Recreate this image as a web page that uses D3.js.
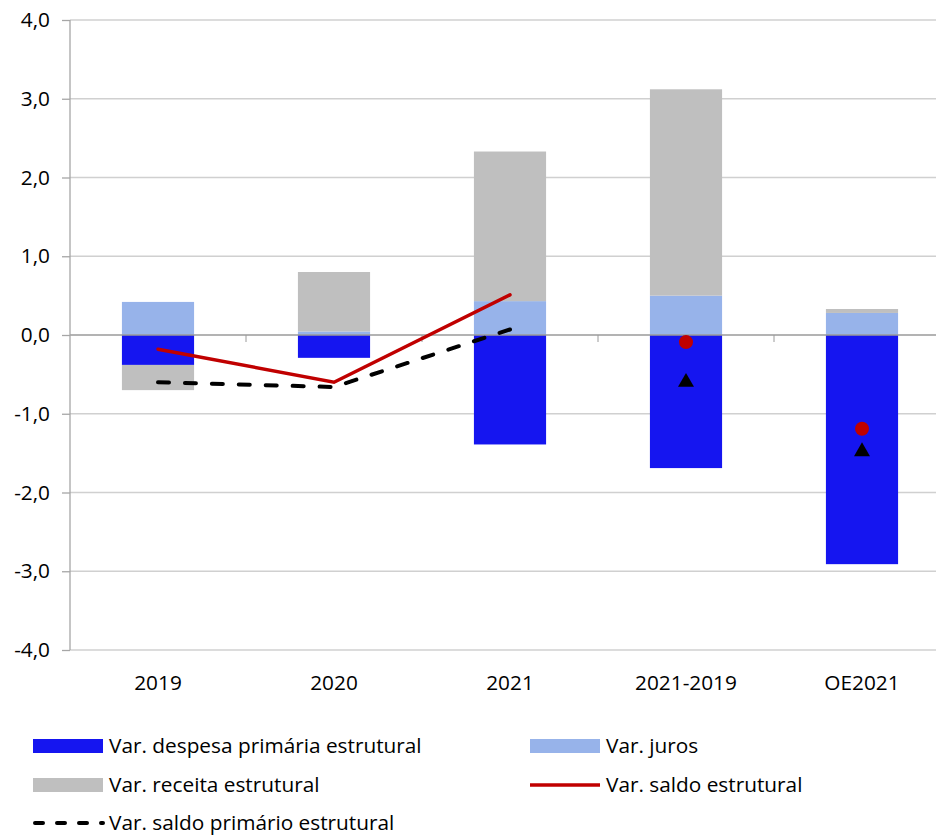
<!DOCTYPE html>
<html>
<head>
<meta charset="utf-8">
<script src="https://cdn.jsdelivr.net/npm/d3@7"></script>
<style>
  body { margin: 0; background: #fff; }
  svg text { font-family: "Open Sans", "Noto Sans", sans-serif; fill: #000; }
</style>
</head>
<body>
<svg id="chart" width="936" height="836"></svg>
<script>
// categories and series
const categories = ["2019", "2020", "2021", "2021-2019", "OE2021"];
const despesa = [-0.38, -0.29, -1.39, -1.69, -2.91];
const juros = [0.42, 0.045, 0.43, 0.50, 0.28];
const receita = [-0.32, 0.755, 1.90, 2.62, 0.05];
const saldo = [-0.18, -0.60, 0.51, -0.09, -1.19];
const saldoPrimario = [-0.60, -0.66, 0.07, -0.60, -1.48];
const yTicks = [-4, -3, -2, -1, 0, 1, 2, 3, 4];
const nLine = 3; // first three are drawn as lines, rest as markers

const W = 936, H = 836;
const plotL = 70, plotR = 950, plotT = 20, plotB = 650;
const fontSize = "20.8px";

const svg = d3.select("#chart");

const x = d3.scaleBand().domain(categories).range([plotL, plotR]).padding(0);
const y = d3.scaleLinear().domain([-4, 4]).range([plotB, plotT]);
const barW = x.bandwidth() * 0.41;

// gridlines
svg.append("g")
  .selectAll("line")
  .data(yTicks.filter(d => d !== 0))
  .enter()
  .append("line")
  .attr("x1", plotL).attr("x2", W)
  .attr("y1", d => y(d)).attr("y2", d => y(d))
  .attr("stroke", "#d0d0d0")
  .attr("stroke-width", 1.3);

// stacked bars
const keys = ["despesa", "juros", "receita"];
const colors = { despesa: "#1515f0", juros: "#97b3ea", receita: "#bfbfbf" };
const rows = categories.map((c, i) => ({ cat: c, despesa: despesa[i], juros: juros[i], receita: receita[i] }));
const stacked = d3.stack().keys(keys).offset(d3.stackOffsetDiverging)(rows);

svg.append("g")
  .selectAll("g")
  .data(stacked)
  .enter()
  .append("g")
  .attr("fill", d => colors[d.key])
  .selectAll("rect")
  .data(d => d)
  .enter()
  .append("rect")
  .attr("x", d => x(d.data.cat) + (x.bandwidth() - barW) / 2)
  .attr("y", d => y(Math.max(d[0], d[1])))
  .attr("width", barW)
  .attr("height", d => Math.abs(y(d[0]) - y(d[1])));

// zero line + category separator ticks
svg.append("line")
  .attr("x1", plotL).attr("x2", W)
  .attr("y1", y(0)).attr("y2", y(0))
  .attr("stroke", "#9a9a9a").attr("stroke-width", 1.5);

svg.append("g")
  .selectAll("line")
  .data(categories.slice(1))
  .enter()
  .append("line")
  .attr("x1", d => x(d)).attr("x2", d => x(d))
  .attr("y1", y(0)).attr("y2", y(0) + 7)
  .attr("stroke", "#9a9a9a").attr("stroke-width", 1);

// y axis
const yAxis = svg.append("g")
  .attr("transform", "translate(" + plotL + ",0)")
  .call(d3.axisLeft(y)
    .tickValues(yTicks)
    .tickSize(8)
    .tickPadding(12)
    .tickFormat(d => d3.format(".1f")(d).replace(".", ",").replace("\u2212", "-")));
yAxis.select(".domain").attr("stroke", "#a6a6a6").attr("stroke-width", 1.3).attr("d", "M0," + plotT + "V" + plotB);
yAxis.selectAll(".tick line").attr("stroke", "#a6a6a6").attr("stroke-width", 1.3);
yAxis.selectAll(".tick text").style("font-size", fontSize).attr("fill", "#000");

// category labels
svg.append("g")
  .selectAll("text")
  .data(categories)
  .enter()
  .append("text")
  .attr("x", d => x(d) + x.bandwidth() / 2)
  .attr("y", 690)
  .attr("text-anchor", "middle")
  .style("font-size", fontSize)
  .text(d => d);

const cx = i => x(categories[i]) + x.bandwidth() / 2;

// lines
const line = d3.line().x(d => cx(d.i)).y(d => y(d.v));
const saldoPts = saldo.map((v, i) => ({ v, i }));
const primPts = saldoPrimario.map((v, i) => ({ v, i }));

const dashed = svg.append("path")
  .datum(primPts.slice(0, nLine))
  .attr("d", line)
  .attr("fill", "none")
  .attr("stroke", "#000")
  .attr("stroke-width", 4)
  .attr("stroke-linecap", "round");
// fit the dash period so the line starts and ends on a dash
const dashLen = 11;
const len = dashed.node().getTotalLength();
const nPer = Math.round((len - dashLen) / 28);
const per = (len - dashLen) / nPer;
dashed.attr("stroke-dasharray", dashLen + "," + (per - dashLen));

svg.append("path")
  .datum(saldoPts.slice(0, nLine))
  .attr("d", line)
  .attr("fill", "none")
  .attr("stroke", "#c00000")
  .attr("stroke-width", 3.5)
  .attr("stroke-linecap", "round");

// markers for the last categories
svg.append("g")
  .selectAll("circle")
  .data(saldoPts.slice(nLine))
  .enter()
  .append("circle")
  .attr("cx", d => cx(d.i))
  .attr("cy", d => y(d.v))
  .attr("r", 7)
  .attr("fill", "#c00000");

const tri = d3.symbol().type(d3.symbolTriangle).size(110);
svg.append("g")
  .selectAll("path")
  .data(primPts.slice(nLine))
  .enter()
  .append("path")
  .attr("d", tri)
  .attr("transform", d => "translate(" + cx(d.i) + "," + y(d.v) + ")")
  .attr("fill", "#000");

// legend
const legend = [
  { label: "Var. despesa primária estrutural", type: "rect", color: colors.despesa, lx: 33, ly: 746 },
  { label: "Var. juros", type: "rect", color: colors.juros, lx: 530, ly: 746 },
  { label: "Var. receita estrutural", type: "rect", color: colors.receita, lx: 33, ly: 785 },
  { label: "Var. saldo estrutural", type: "line", color: "#c00000", lx: 530, ly: 785 },
  { label: "Var. saldo primário estrutural", type: "dash", color: "#000", lx: 33, ly: 823 }
];

const lg = svg.append("g")
  .selectAll("g")
  .data(legend)
  .enter()
  .append("g")
  .attr("transform", d => "translate(" + d.lx + "," + d.ly + ")");

lg.filter(d => d.type === "rect")
  .append("rect")
  .attr("x", 0).attr("y", -7)
  .attr("width", 70).attr("height", 14)
  .attr("fill", d => d.color);

lg.filter(d => d.type === "line")
  .append("line")
  .attr("x1", 0).attr("x2", 70)
  .attr("stroke", d => d.color)
  .attr("stroke-width", 3.5);

lg.filter(d => d.type === "dash")
  .append("line")
  .attr("x1", 2).attr("x2", 70)
  .attr("stroke", d => d.color)
  .attr("stroke-width", 4)
  .attr("stroke-linecap", "round")
  .attr("stroke-dasharray", "8,14");

lg.append("text")
  .attr("x", 76)
  .attr("y", 0)
  .attr("dy", "0.35em")
  .style("font-size", fontSize)
  .text(d => d.label);
</script>
</body>
</html>
